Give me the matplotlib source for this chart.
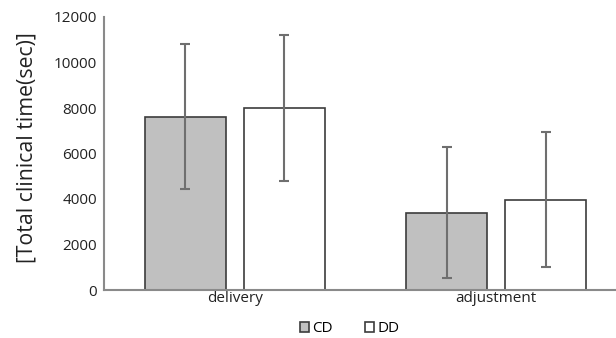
import numpy as np
import matplotlib.pyplot as plt

categories = ['delivery', 'adjustment']
cd_mean = [7620, 3400]
cd_err = [3200, 2880]
dd_mean = [7990, 3960]
dd_err = [3200, 2970]
y_ticks = [0, 2000, 4000, 6000, 8000, 10000, 12000]

plt.rcParams['font.family'] = ['Open Sans', 'DejaVu Sans']

fig = plt.figure(figsize=(6.16, 3.38), dpi=100)
ax = fig.add_axes([104 / 616, 48 / 338, 512 / 616, 273 / 338])

x = np.arange(len(categories))
w = 0.31
off = 0.19
err_kw = dict(ecolor='#6f6f6f', elinewidth=1.5, capsize=3.5, capthick=1.5)

ax.bar(x - off, cd_mean, w, yerr=cd_err, color='#c0c0c0', edgecolor='#3c3c3c',
       linewidth=1.2, label='CD', error_kw=err_kw, zorder=2)
ax.bar(x + off, dd_mean, w, yerr=dd_err, color='white', edgecolor='#3c3c3c',
       linewidth=1.2, label='DD', error_kw=err_kw, zorder=2)

ax.set_xlim(-0.5, 1.458)
ax.set_ylim(0, 12000)
ax.set_yticks(y_ticks)
ax.set_xticks(x)
ax.set_xticklabels(categories)
ax.tick_params(axis='both', length=0, labelsize=11, colors='#222222')
ax.tick_params(axis='x', pad=1)
ax.tick_params(axis='y', pad=5)

for s in ['top', 'right']:
    ax.spines[s].set_visible(False)
for s in ['left', 'bottom']:
    ax.spines[s].set_color('#8a8a8a')
    ax.spines[s].set_linewidth(1.5)

ax.set_ylabel('[Total clinical time(sec)]', fontsize=15.3, color='#222222', labelpad=6)
ax.yaxis.set_label_coords(-0.13, 0.52)

ax.legend(loc='upper center', bbox_to_anchor=(0.48, -0.065), ncol=2, frameon=False,
          fontsize=11, handlelength=0.6, handleheight=0.6, handletextpad=0.2,
          columnspacing=2.1)

plt.savefig('out.png', dpi=100)
